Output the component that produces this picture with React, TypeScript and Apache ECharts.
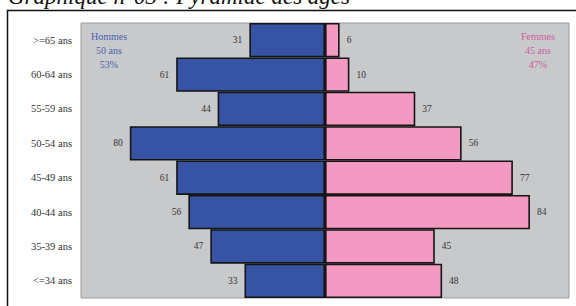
import React, { useEffect, useRef } from "react";
import * as echarts from "echarts";

const categories = [">=65 ans", "60-64 ans", "55-59 ans", "50-54 ans", "45-49 ans", "40-44 ans", "35-39 ans", "<=34 ans"];
const hommes = [31, 61, 44, 80, 61, 56, 47, 33];
const femmes = [6, 10, 37, 56, 77, 84, 45, 48];
const titleText = "Graphique n°03 : Pyramide des âges";
const hommesNote = ["Hommes", "50 ans", "53%"];
const femmesNote = ["Femmes", "45 ans", "47%"];

const SERIF = "'Liberation Serif', 'DejaVu Serif', serif";

export default function App() {
  const ref = useRef<HTMLDivElement>(null);
  useEffect(() => {
    if (!ref.current) return;
    const chart = echarts.init(ref.current, null, { renderer: "svg" });
    const noteText = (lines: string[], x: number, color: string) =>
      lines.map((t, i) => ({
        type: "text",
        x,
        y: 36 + i * 14,
        style: {
          text: t,
          fill: color,
          font: `10px ${SERIF}`,
          align: "center",
          verticalAlign: "middle",
        },
        z: 100,
      }));
    chart.setOption({
      animation: false,
      backgroundColor: "#ffffff",
      grid: {
        left: 81,
        right: 7,
        top: 23,
        bottom: 8,
        show: true,
        backgroundColor: "#C8C9CB",
        borderColor: "#9A9A9A",
        borderWidth: 1,
      },
      xAxis: {
        type: "value",
        min: -100,
        max: 100,
        show: false,
      },
      yAxis: {
        type: "category",
        data: categories,
        inverse: true,
        axisLine: { show: false },
        axisTick: { show: false },
        splitLine: { show: false },
        axisLabel: {
          color: "#333333",
          fontFamily: SERIF,
          fontSize: 10.5,
          margin: 9,
        },
      },
      series: [
        {
          type: "bar",
          name: "Hommes",
          stack: "pyr",
          data: hommes.map((v) => -v),
          barCategoryGap: "0%",
          itemStyle: { color: "#3753A4", borderColor: "#151515", borderWidth: 1.6 },
          label: {
            show: true,
            position: "left",
            distance: 7,
            color: "#333333",
            fontFamily: SERIF,
            fontSize: 9.5,
            formatter: (p: any) => String(Math.abs(p.value)),
          },
        },
        {
          type: "bar",
          name: "Femmes",
          stack: "pyr",
          data: femmes,
          barCategoryGap: "0%",
          itemStyle: { color: "#F49AC2", borderColor: "#151515", borderWidth: 1.6 },
          label: {
            show: true,
            position: "right",
            distance: 7,
            color: "#333333",
            fontFamily: SERIF,
            fontSize: 9.5,
          },
        },
      ],
      graphic: [
        {
          type: "rect",
          shape: { x: 7.5, y: 10.5, width: 600, height: 320 },
          style: { fill: "none", stroke: "#111111", lineWidth: 1.5 },
          z: 0,
          silent: true,
        },
        {
          type: "text",
          x: 8,
          y: 7.5,
          style: {
            text: titleText,
            fill: "#111111",
            font: `italic 23px ${SERIF}`,
            align: "left",
            verticalAlign: "bottom",
          },
        },
        ...noteText(hommesNote, 109, "#4A62B0"),
        ...noteText(femmesNote, 538, "#CC5FA3"),
      ],
    });
    return () => chart.dispose();
  }, []);
  return (
    <div
      ref={ref}
      style={{ position: "fixed", left: 0, top: 0, width: 576, height: 306, background: "#fff" }}
    />
  );
}
